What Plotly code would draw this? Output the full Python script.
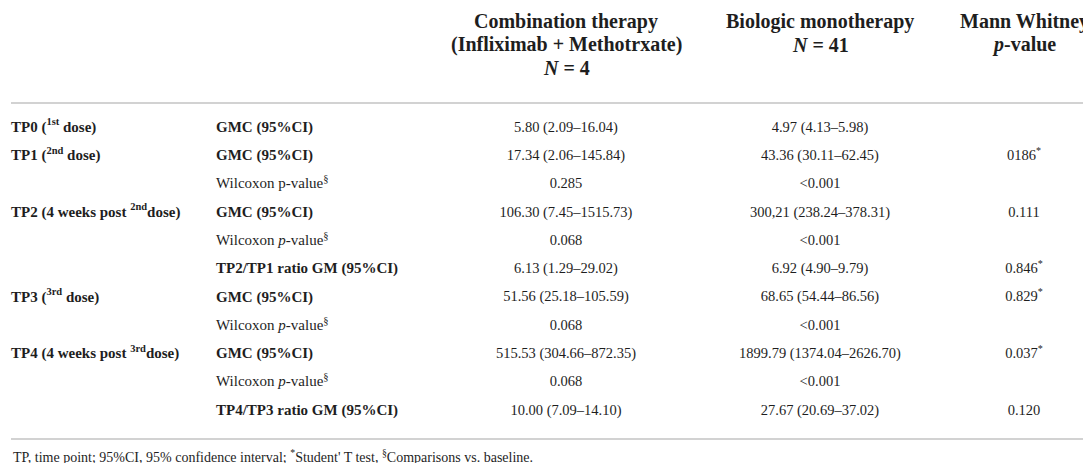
import plotly.graph_objects as go

# Table content
timepoints = ['<b>TP0 (<sup>1st</sup> dose)</b>', '<b>TP1 (<sup>2nd</sup> dose)</b>', '',
              '<b>TP2 (4 weeks post <sup>2nd</sup>dose)</b>', '', '',
              '<b>TP3 (<sup>3rd</sup> dose)</b>', '',
              '<b>TP4 (4 weeks post <sup>3rd</sup>dose)</b>', '', '']
measures = ['<b>GMC (95%CI)</b>', '<b>GMC (95%CI)</b>', 'Wilcoxon p-value<sup>§</sup>',
            '<b>GMC (95%CI)</b>', 'Wilcoxon <i>p</i>-value<sup>§</sup>', '<b>TP2/TP1 ratio GM (95%CI)</b>',
            '<b>GMC (95%CI)</b>', 'Wilcoxon <i>p</i>-value<sup>§</sup>',
            '<b>GMC (95%CI)</b>', 'Wilcoxon <i>p</i>-value<sup>§</sup>', '<b>TP4/TP3 ratio GM (95%CI)</b>']
combination = ['5.80 (2.09–16.04)', '17.34 (2.06–145.84)', '0.285',
               '106.30 (7.45–1515.73)', '0.068', '6.13 (1.29–29.02)',
               '51.56 (25.18–105.59)', '0.068',
               '515.53 (304.66–872.35)', '0.068', '10.00 (7.09–14.10)']
monotherapy = ['4.97 (4.13–5.98)', '43.36 (30.11–62.45)', '<0.001',
               '300,21 (238.24–378.31)', '<0.001', '6.92 (4.90–9.79)',
               '68.65 (54.44–86.56)', '<0.001',
               '1899.79 (1374.04–2626.70)', '<0.001', '27.67 (20.69–37.02)']
mann_whitney = ['', '0186<sup>*</sup>', '',
                '0.111', '', '0.846<sup>*</sup>',
                '0.829<sup>*</sup>', '',
                '0.037<sup>*</sup>', '', '0.120']
header_combination = ['Combination therapy', '(Infliximab + Methotrxate)', '<i>N</i> = 4']
header_monotherapy = ['Biologic monotherapy', '<i>N</i> = 41']
header_mann_whitney = ['Mann Whitney', '<i>p</i>-value']
footnote = ("TP, time point; 95%CI, 95% confidence interval; <sup>*</sup>Student' T test, "
            "<sup>§</sup>Comparisons vs. baseline.")

serif = 'Liberation Serif'
ink = '#1e1e1e'

# layout in pixels (axes run 0..1091 across, 0..463 down)
W, H = 1091, 463
first_row, row_pitch = 120, 28.3
header_first, header_pitch = 13, 23.5
rows_y = [first_row + i * row_pitch for i in range(len(measures))]

columns = [
    (timepoints, 3, 'middle right', 15),
    (measures, 208, 'middle right', 15),
    (combination, 558, 'middle center', 14.5),
    (monotherapy, 812, 'middle center', 14.5),
    (mann_whitney, 1016, 'middle center', 14.5),
]

fig = go.Figure()
for values, x, pos, size in columns:
    fig.add_trace(go.Scatter(x=[x] * len(values), y=rows_y, text=values, mode='text',
                             textposition=pos, hoverinfo='skip',
                             textfont=dict(family=serif, size=size, color=ink)))

for lines, x in [(header_combination, 558), (header_monotherapy, 812), (header_mann_whitney, 1016)]:
    for i, line in enumerate(lines):
        fig.add_annotation(x=x, y=header_first + i * header_pitch, text='<b>' + line + '</b>',
                           showarrow=False, xanchor='center', yanchor='middle',
                           font=dict(family=serif, size=20, color=ink))

# grey rules under the header and under the body
for y in [95, 431]:
    fig.add_shape(type='line', x0=3, x1=1088, y0=y, y1=y,
                  line=dict(color='#d2d2d2', width=2))

fig.add_annotation(text=footnote, x=3, y=448, xanchor='left', yanchor='middle', showarrow=False,
                   font=dict(family=serif, size=14, color=ink))

fig.update_xaxes(range=[0, W], visible=False, fixedrange=True)
fig.update_yaxes(range=[H, 0], visible=False, fixedrange=True)
fig.update_layout(width=W, height=H, margin=dict(l=0, r=0, t=0, b=0), showlegend=False,
                  paper_bgcolor='white', plot_bgcolor='white')

fig.write_html("out.html")
